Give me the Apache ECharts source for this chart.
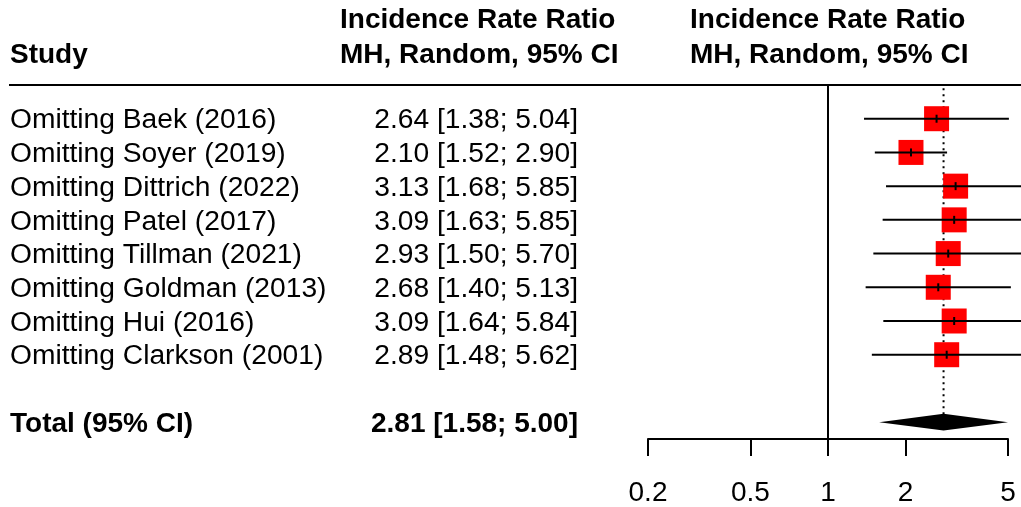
<!DOCTYPE html>
<html>
<head>
<meta charset="utf-8">
<script src="https://cdn.jsdelivr.net/npm/echarts@6/dist/echarts.min.js"></script>
<style>
html,body{margin:0;padding:0;background:#fff;}
#chart{width:1021px;height:507px;}
</style>
</head>
<body>
<div id="chart"></div>
<script>
const studies = ['Omitting Baek (2016)', 'Omitting Soyer (2019)', 'Omitting Dittrich (2022)', 'Omitting Patel (2017)',
  'Omitting Tillman (2021)', 'Omitting Goldman (2013)', 'Omitting Hui (2016)', 'Omitting Clarkson (2001)'];
const estimates = [2.64, 2.10, 3.13, 3.09, 2.93, 2.68, 3.09, 2.89];
const lowerCI = [1.38, 1.52, 1.68, 1.63, 1.50, 1.40, 1.64, 1.48];
const upperCI = [5.04, 2.90, 5.85, 5.85, 5.70, 5.13, 5.84, 5.62];
const totalLabel = 'Total (95% CI)';
const totalEst = 2.81;
const totalLower = 1.58;
const totalUpper = 5.00;
const tickValues = [0.2, 0.5, 1, 2, 5];
const tickLabels = ['0.2', '0.5', '1', '2', '5'];
const headerStudy = 'Study';
const headerEffect = ['Incidence Rate Ratio', 'MH, Random, 95% CI'];

const FONT = "'Liberation Sans', Arial, Helvetica, sans-serif";
const FS = 28.2;
const FSB = 28;
const TY = 2; // text vertical nudge
const lg = v => Math.log10(v);
const fmt = (e, l, u) => e.toFixed(2) + ' [' + l.toFixed(2) + '; ' + u.toFixed(2) + ']';
const TOTAL_ROW = studies.length + 1;

const studyData = studies.map((s, i) => [i, estimates[i], lowerCI[i], upperCI[i]]);
const totalData = [[TOTAL_ROW, totalEst, totalLower, totalUpper]];

const chart = echarts.init(document.getElementById('chart'), null, {renderer: 'canvas'});

function textEl(txt, x, y, align, bold) {
  return {
    type: 'text',
    style: {
      text: txt, x: x, y: y + TY, align: align, verticalAlign: 'middle',
      fill: '#000', fontSize: bold ? FSB : FS, fontFamily: FONT, fontWeight: bold ? 'bold' : 'normal'
    }
  };
}

function headerText(txt, x, y) {
  return {type: 'text', x: x, y: y + TY, style: {text: txt, fontSize: FSB, fontWeight: 'bold', fontFamily: FONT, fill: '#000', verticalAlign: 'middle'}};
}

const option = {
  animation: false,
  backgroundColor: '#fff',
  grid: {left: 648, right: 13, top: 85, bottom: 68, containLabel: false, outerBoundsMode: 'none'},
  xAxis: {
    type: 'value',
    min: lg(tickValues[0]),
    max: lg(tickValues[tickValues.length - 1]),
    splitLine: {show: false},
    axisLine: {show: true, onZero: false, lineStyle: {color: '#000', width: 2}},
    axisTick: {show: true, length: 17, inside: false, customValues: tickValues.map(lg), lineStyle: {color: '#000', width: 2}},
    axisLabel: {
      show: true, margin: 40, color: '#000', fontSize: 28, fontFamily: FONT,
      customValues: tickValues.map(lg),
      formatter: function (v) {
        let best = 0, bd = Infinity;
        tickValues.forEach((t, i) => { const d = Math.abs(lg(t) - v); if (d < bd) { bd = d; best = i; } });
        return tickLabels[best];
      }
    }
  },
  yAxis: {
    type: 'value', min: -1, max: 9.5, inverse: true, show: false
  },
  graphic: [
    {type: 'line', shape: {x1: 9, y1: 85, x2: 1021, y2: 85}, style: {stroke: '#000', lineWidth: 2}, z: 10},
    headerText(headerStudy, 10, 53),
    headerText(headerEffect[0], 340, 18),
    headerText(headerEffect[1], 340, 53),
    headerText(headerEffect[0], 690, 18),
    headerText(headerEffect[1], 690, 53)
  ],
  series: [
    {
      type: 'custom',
      name: 'null line',
      clip: false,
      data: [[1]],
      z: 1,
      renderItem: function (params, api) {
        const top = api.coord([lg(api.value(0)), -1]);
        const bot = api.coord([lg(api.value(0)), 9.5]);
        return {type: 'line', shape: {x1: top[0], y1: top[1], x2: bot[0], y2: bot[1]}, style: {stroke: '#000', lineWidth: 2}};
      }
    },
    {
      type: 'custom',
      name: 'overall line',
      clip: false,
      data: [[totalEst, TOTAL_ROW]],
      z: 1,
      renderItem: function (params, api) {
        const top = api.coord([lg(api.value(0)), -0.9]);
        const bot = api.coord([lg(api.value(0)), api.value(1)]);
        return {type: 'line', shape: {x1: top[0], y1: top[1], x2: bot[0], y2: bot[1] - 8}, style: {stroke: '#000', lineWidth: 2, lineDash: [2, 4]}};
      }
    },
    {
      type: 'custom',
      name: 'studies',
      clip: false,
      data: studyData,
      z: 3,
      renderItem: function (params, api) {
        const row = api.value(0);
        const i = params.dataIndex;
        const c = api.coord([lg(api.value(1)), row]);
        const l = api.coord([lg(api.value(2)), row]);
        const u = api.coord([lg(api.value(3)), row]);
        const B = 25;
        return {
          type: 'group',
          children: [
            {type: 'rect', shape: {x: c[0] - B / 2, y: c[1] - B / 2, width: B, height: B}, style: {fill: '#ff0000'}},
            {type: 'line', shape: {x1: l[0], y1: c[1], x2: u[0], y2: c[1]}, style: {stroke: '#000', lineWidth: 2}},
            {type: 'line', shape: {x1: c[0], y1: c[1] - 4, x2: c[0], y2: c[1] + 4}, style: {stroke: '#000', lineWidth: 2}},
            textEl(studies[i], 10, c[1], 'left', false),
            textEl(fmt(estimates[i], lowerCI[i], upperCI[i]), 578, c[1], 'right', false)
          ]
        };
      }
    },
    {
      type: 'custom',
      name: 'total',
      clip: false,
      data: totalData,
      z: 3,
      renderItem: function (params, api) {
        const row = api.value(0);
        const c = api.coord([lg(api.value(1)), row]);
        const l = api.coord([lg(api.value(2)), row]);
        const u = api.coord([lg(api.value(3)), row]);
        const H = 8.3;
        return {
          type: 'group',
          children: [
            {type: 'polygon', shape: {points: [[l[0], c[1]], [c[0], c[1] - H], [u[0], c[1]], [c[0], c[1] + H]]}, style: {fill: '#000'}},
            textEl(totalLabel, 10, c[1], 'left', true),
            textEl(fmt(totalEst, totalLower, totalUpper), 578, c[1], 'right', true)
          ]
        };
      }
    }
  ]
};
chart.setOption(option);
</script>
</body>
</html>
